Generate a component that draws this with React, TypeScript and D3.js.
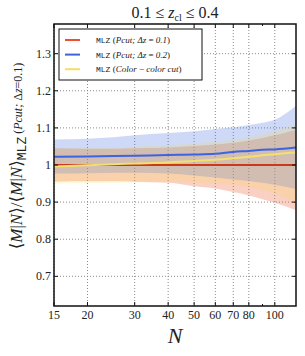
import React from "react";
import * as d3 from "d3";

// richness bins
const nValues = [15, 20, 25, 30, 40, 50, 60, 70, 80, 90, 100, 120];

// MLZ (Pcut; dz=0.1) -- reference, ratio is 1
const redMid = [1, 1, 1, 1, 1, 1, 1, 1, 1, 1, 1, 1];
const redLower = [0.955, 0.956, 0.956, 0.955, 0.952, 0.943, 0.937, 0.927, 0.918, 0.908, 0.898, 0.878];
const redUpper = [1.045, 1.044, 1.044, 1.045, 1.047, 1.051, 1.055, 1.06, 1.066, 1.073, 1.08, 1.095];

// MLZ (Pcut; dz=0.2)
const blueMid = [1.022, 1.023, 1.024, 1.025, 1.027, 1.028, 1.03, 1.035, 1.038, 1.041, 1.042, 1.047];
const blueLower = [0.977, 0.978, 0.979, 0.979, 0.977, 0.972, 0.966, 0.961, 0.957, 0.952, 0.947, 0.935];
const blueUpper = [1.069, 1.071, 1.075, 1.08, 1.086, 1.091, 1.097, 1.102, 1.108, 1.114, 1.122, 1.16];

// MLZ (Color - color cut)
const yellowMid = [0.996, 0.999, 1.002, 1.004, 1.007, 1.011, 1.014, 1.018, 1.022, 1.026, 1.029, 1.034];
const yellowLower = [0.95, 0.951, 0.952, 0.953, 0.955, 0.953, 0.95, 0.946, 0.94, 0.932, 0.923, 0.897];
const yellowUpper = [1.045, 1.046, 1.048, 1.05, 1.054, 1.058, 1.063, 1.068, 1.075, 1.083, 1.092, 1.11];

const xTicks = [15, 20, 30, 40, 50, 60, 70, 80, 100];
const xMinorTicks = [90];
const yTicks = [0.7, 0.8, 0.9, 1.0, 1.1, 1.2, 1.3];
const yTickLabels = ["0.7", "0.8", "0.9", "1", "1.1", "1.2", "1.3"];

const W = 305, H = 356;
const margem = { top: 24, bottom: 50, left: 54, right: 9 };

const serif = "'Liberation Serif', 'DejaVu Serif', serif";
const mono = "'Liberation Mono', 'DejaVu Sans Mono', monospace";

type Serie = { mid: number[], lo: number[], hi: number[], cor: string, alpha: number };

const series: Serie[] = [
    { mid: redMid, lo: redLower, hi: redUpper, cor: "#f0603c", alpha: 0.3 },
    { mid: blueMid, lo: blueLower, hi: blueUpper, cor: "#3d63e0", alpha: 0.25 },
    { mid: yellowMid, lo: yellowLower, hi: yellowUpper, cor: "#f5e050", alpha: 0.2 },
];

export default function App() {
    const x = d3.scaleLog().domain([15, 120]).range([margem.left, W - margem.right]);
    const y = d3.scaleLinear().domain([0.62, 1.38]).range([H - margem.bottom, margem.top]);
    const x0 = margem.left, x1 = W - margem.right, y0 = H - margem.bottom, y1 = margem.top;

    const area = (s: Serie) => d3.area<number>()
        .x((_, i) => x(nValues[i]))
        .y0((_, i) => y(s.lo[i]))
        .y1((_, i) => y(s.hi[i]))
        .curve(d3.curveMonotoneX)(s.mid) ?? "";
    const line = (s: Serie) => d3.line<number>()
        .x((_, i) => x(nValues[i]))
        .y((d) => y(d))
        .curve(d3.curveMonotoneX)(s.mid) ?? "";

    const legendas = [
        { cor: "#f0502c", texto: <><tspan fontStyle="italic">Pcut;</tspan> <tspan fontStyle="italic">Δz</tspan> = <tspan fontStyle="italic">0.1</tspan>)</> },
        { cor: "#3d63e0", texto: <><tspan fontStyle="italic">Pcut;</tspan> <tspan fontStyle="italic">Δz</tspan> = <tspan fontStyle="italic">0.2</tspan>)</> },
        { cor: "#f5e060", texto: <><tspan fontStyle="italic">Color</tspan> − <tspan fontStyle="italic">color cut</tspan>)</> },
    ];

    return (
        <div style={{ position: "fixed", left: 0, top: 0 }}>
            <svg width={W} height={H} style={{ display: "block", background: "white" }}>
                <defs>
                    <clipPath id="plot-clip">
                        <rect x={x0} y={y1} width={x1 - x0} height={y0 - y1} />
                    </clipPath>
                </defs>
                {/* grid */}
                <g stroke="#8a8a8a" strokeWidth={1} strokeDasharray="1,2">
                    {xTicks.map(t => <line key={"gx" + t} x1={x(t)} x2={x(t)} y1={y1} y2={y0} />)}
                    {yTicks.map(t => <line key={"gy" + t} x1={x0} x2={x1} y1={y(t)} y2={y(t)} />)}
                </g>
                <g clipPath="url(#plot-clip)">
                    {series.map((s, i) => <path key={"a" + i} d={area(s)} fill={s.cor} fillOpacity={s.alpha} stroke="none" />)}
                    <path d={line(series[0])} fill="none" stroke="#e8401c" strokeWidth={2.2} />
                    <path d={line(series[0])} fill="none" stroke="#8a2a10" strokeWidth={0.6} />
                    <path d={line(series[1])} fill="none" stroke="#3d63e0" strokeWidth={2} />
                    <path d={line(series[2])} fill="none" stroke="#f2e070" strokeWidth={2} />
                </g>
                {/* frame */}
                <rect x={x0} y={y1} width={x1 - x0} height={y0 - y1} fill="none" stroke="#111" strokeWidth={1.5} />
                {/* ticks */}
                <g stroke="#111" strokeWidth={1}>
                    {xTicks.map(t => <g key={"tx" + t}>
                        <line x1={x(t)} x2={x(t)} y1={y0} y2={y0 - 4} />
                        <line x1={x(t)} x2={x(t)} y1={y1} y2={y1 + 4} />
                    </g>)}
                    {xMinorTicks.map(t => <g key={"mx" + t}>
                        <line x1={x(t)} x2={x(t)} y1={y0} y2={y0 - 2} />
                        <line x1={x(t)} x2={x(t)} y1={y1} y2={y1 + 2} />
                    </g>)}
                    {yTicks.map(t => <g key={"ty" + t}>
                        <line x1={x0} x2={x0 + 4} y1={y(t)} y2={y(t)} />
                        <line x1={x1} x2={x1 - 4} y1={y(t)} y2={y(t)} />
                    </g>)}
                </g>
                <g fontFamily={serif} fontSize={12} fill="#222">
                    {xTicks.map(t => <text key={"lx" + t} x={x(t)} y={y0 + 13} textAnchor="middle">{t}</text>)}
                    {yTicks.map((t, i) => <text key={"ly" + t} x={x0 - 3} y={y(t) + 4} textAnchor="end">{yTickLabels[i]}</text>)}
                </g>
                {/* title */}
                <text x={175} y={18} textAnchor="middle" fontFamily={serif} fontSize={16} fill="#222">
                    0.1 ≤ <tspan fontStyle="italic">z</tspan><tspan fontSize={10} dy={3}>cl</tspan><tspan dy={-3}> ≤ 0.4</tspan>
                </text>
                {/* x label */}
                <text x={175} y={343} textAnchor="middle" fontFamily={serif} fontSize={22} fontStyle="italic" fill="#222">N</text>
                {/* y label */}
                <text transform={`translate(22, 156) rotate(-90)`} textAnchor="middle" fontFamily={serif} fontSize={17} fill="#222">
                    ⟨<tspan fontStyle="italic">M</tspan>|<tspan fontStyle="italic">N</tspan>⟩/⟨<tspan fontStyle="italic">M</tspan>|<tspan fontStyle="italic">N</tspan>⟩
                    <tspan fontFamily={mono} fontSize={13} dy={4}>MLZ</tspan>
                    <tspan fontSize={12} dy={-4}> (<tspan fontStyle="italic">Pcut;</tspan> Δ<tspan fontStyle="italic">z</tspan>=0.1)</tspan>
                </text>
                {/* legend */}
                <g>
                    <rect x={59} y={29} width={143} height={51} fill="white" stroke="#111" strokeWidth={1} />
                    {legendas.map((l, i) => <g key={"lg" + i} transform={`translate(0, ${40 + i * 14.6})`}>
                        <line x1={65} x2={80} y1={0} y2={0} stroke={l.cor} strokeWidth={2} />
                        <text x={96} y={3} fontFamily={serif} fontSize={9} fill="#222">
                            <tspan fontFamily={mono} fontSize={8}>MLZ</tspan> ({l.texto}
                        </text>
                    </g>)}
                </g>
            </svg>
        </div>
    );
}
